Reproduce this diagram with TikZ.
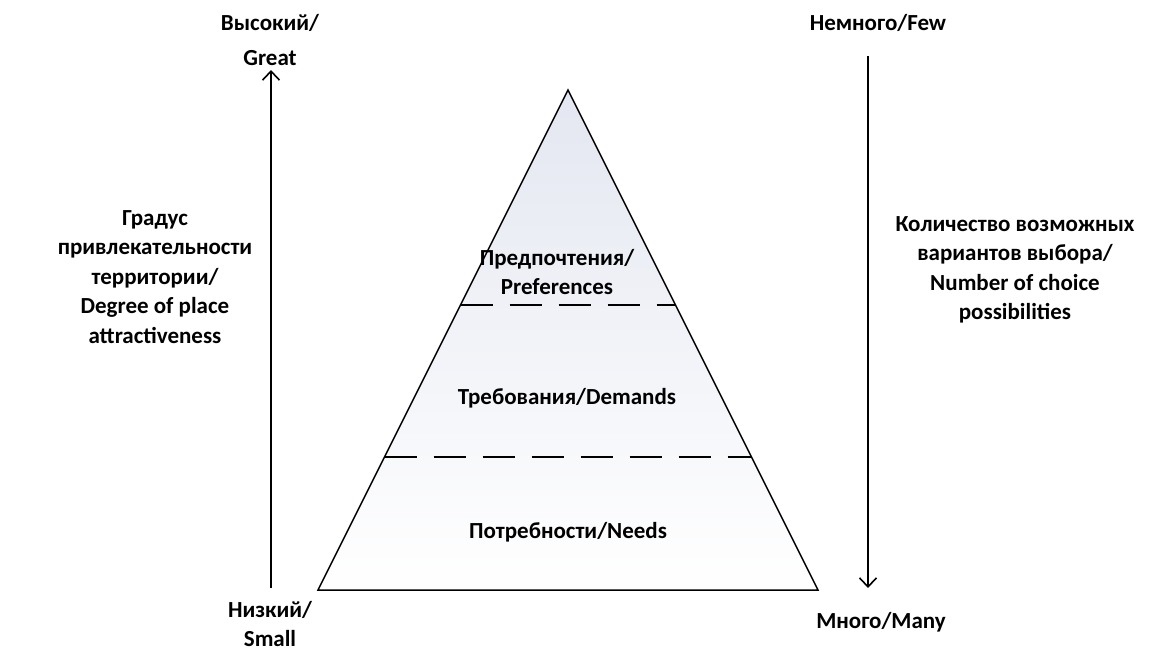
\documentclass[tikz,border=0pt]{standalone}
\usepackage{fontspec}
\setmainfont{Carlito}
\usetikzlibrary{arrows.meta,calc}

\definecolor{pyrtop}{RGB}{228,231,241}

\begin{document}
\begin{tikzpicture}[x=0.5pt,y=-0.5pt,
  lbl/.style={font=\bfseries\fontsize{11.5}{14.75}\selectfont, align=center, inner sep=0pt},
  axis/.style={-{Straight Barb[length=4.5pt,width=8.5pt]}, line width=0.8pt},
  level/.style={dash pattern=on 16pt off 8.5pt, line width=0.9pt}]

\useasboundingbox (0,0) rectangle (1153,650);

% pyramid
\shadedraw[top color=pyrtop, bottom color=white, line width=0.75pt]
  (568,90) coordinate (apex) -- (818,590) coordinate (br) -- (318,590) coordinate (bl) -- cycle;

\draw[level] ($(apex)!0.43!(bl)$) coordinate (d1l) -- ($(apex)!0.43!(br)$) coordinate (d1r);
\draw[level] ($(apex)!0.734!(bl)$) coordinate (d2l) -- ($(apex)!0.734!(br)$) coordinate (d2r);

\node[lbl] (pref) at (557,272) {Предпочтения/\\Preferences};
\node[lbl] (dem) at (567,398) {Требования/Demands};
\node[lbl] (need) at (568,532) {Потребности/Needs};

% left axis
\coordinate (lowL) at (271,588);
\coordinate (highL) at (271,70);
\draw[axis] (lowL) -- (highL);
\node[lbl] (great) at (270,40) {Высокий/\\[2.5pt]Great};
\node[lbl] (small) at (270,624) {Низкий/\\Small};
\node[lbl] (attr) at (155,277) {Градус\\привлекательности\\территории/\\Degree of place\\attractiveness};

% right axis
\coordinate (fewR) at (868,56);
\coordinate (manyR) at (868,588);
\draw[axis] (fewR) -- (manyR);
\node[lbl] (few) at (878,23) {Немного/Few};
\node[lbl] (many) at (881,622) {Много/Many};
\node[lbl] (choice) at (1015,270) {Количество возможных\\вариантов выбора/\\Number of choice\\possibilities};

\end{tikzpicture}
\end{document}
